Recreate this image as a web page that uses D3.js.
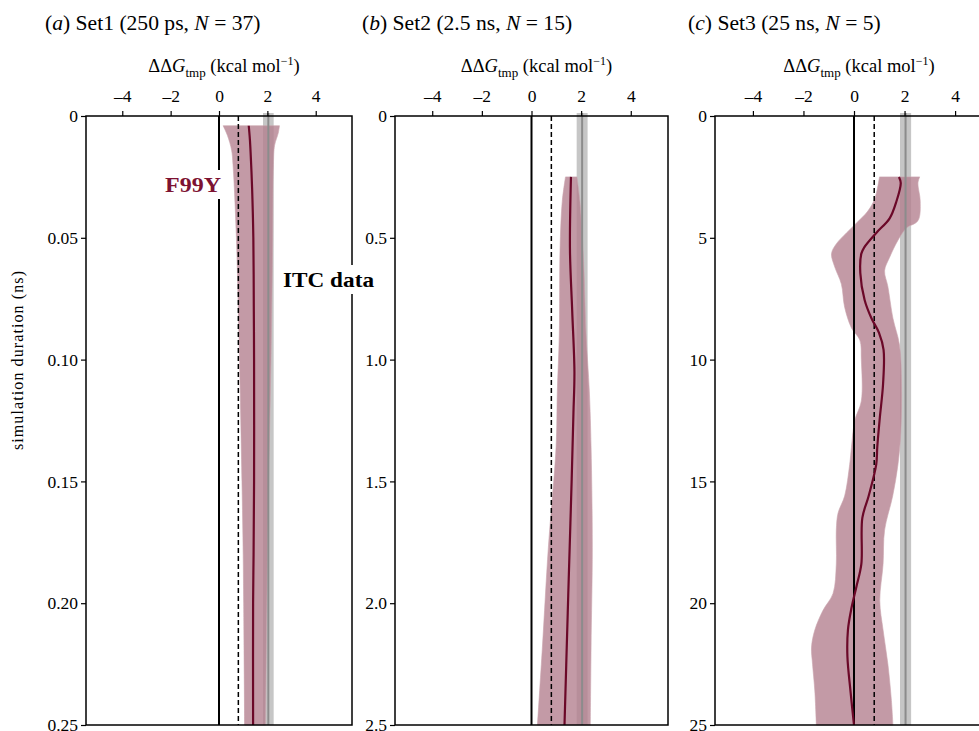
<!DOCTYPE html>
<html>
<head>
<meta charset="utf-8">
<script src="https://cdn.jsdelivr.net/npm/d3@7"></script>
<style>
  body { margin: 0; background: #fff; }
  svg { font-family: "Liberation Serif", "Times New Roman", serif; }
</style>
</head>
<body>
<svg id="chart" width="979" height="731"></svg>
<script>
// ---- data ----
var xTicks = [-4, -2, 0, 2, 4];
var itcValue = 2.04, itcErr = 0.22;   // ITC reference value and its band
var dashedValue = 0.8;

var titles = ["a", "b", "c"];
var titleText = ["Set1 (250 ps, ", "Set2 (2.5 ns, ", "Set3 (25 ns, "];
var titleN = ["37", "15", "5"];

var yTicksA = [0, 0.05, 0.10, 0.15, 0.20, 0.25];
var yTicksB = [0, 0.5, 1.0, 1.5, 2.0, 2.5];
var yTicksC = [0, 5, 10, 15, 20, 25];
var yLabelsA = ["0", "0.05", "0.10", "0.15", "0.20", "0.25"];
var yLabelsB = ["0", "0.5", "1.0", "1.5", "2.0", "2.5"];
var yLabelsC = ["0", "5", "10", "15", "20", "25"];

// set 1
var meanTA = [0.004, 0.01, 0.02, 0.03, 0.05, 0.08, 0.10, 0.15, 0.18, 0.20, 0.25];
var meanA  = [1.23, 1.28, 1.33, 1.37, 1.42, 1.44, 1.45, 1.45, 1.43, 1.41, 1.41];
var lowTA  = [0.004, 0.008, 0.014, 0.02, 0.05, 0.08, 0.10, 0.15, 0.18, 0.20, 0.25];
var lowA   = [0.17, 0.35, 0.52, 0.58, 0.72, 0.80, 0.85, 0.95, 1.00, 1.02, 1.06];
var highTA = [0.004, 0.007, 0.012, 0.02, 0.05, 0.10, 0.15, 0.20, 0.25];
var highA  = [2.50, 2.45, 2.30, 2.25, 2.22, 2.15, 2.05, 1.98, 1.93];

// set 2
var meanTB = [0.25, 0.55, 0.80, 1.05, 1.22, 1.49, 1.90, 2.04, 2.50];
var meanB  = [1.59, 1.55, 1.64, 1.73, 1.69, 1.62, 1.50, 1.46, 1.33];
var lowTB  = [0.25, 0.35, 0.55, 0.90, 1.13, 1.36, 1.77, 2.18, 2.50];
var lowB   = [1.37, 1.24, 1.15, 1.12, 1.04, 0.99, 0.68, 0.44, 0.24];
var highTB = [0.25, 0.35, 0.60, 0.90, 1.13, 1.36, 1.77, 2.18, 2.50];
var highB  = [1.83, 1.95, 2.10, 2.20, 2.33, 2.40, 2.45, 2.40, 2.37];

// set 3
var meanTC = [2.5, 2.75, 3.5, 4.2, 4.8, 5.4, 5.65, 6.45, 7.55, 8.3, 8.9, 9.6, 11.0, 12.4, 13.6,
              14.3, 15.6, 16.5, 18.4, 19.3, 20.2, 21.1, 22.2, 23.6, 25.0];
var meanC  = [1.78, 1.85, 1.68, 1.41, 0.88, 0.40, 0.29, 0.25, 0.42, 0.69, 0.99, 1.17, 1.15, 1.02, 0.92,
              0.88, 0.58, 0.33, 0.29, 0.10, -0.10, -0.24, -0.26, -0.14, 0.00];
var lowTC  = [2.5, 3.4, 3.9, 4.4, 4.8, 5.25, 5.65, 6.2, 6.9, 7.85, 8.7, 9.2, 10.0, 11.7, 12.5, 13.6,
              14.3, 15.6, 16.3, 17.0, 18.4, 19.6, 20.3, 21.1, 21.8, 22.5, 23.6, 25.0];
var lowC   = [1.01, 0.82, 0.55, 0.09, -0.30, -0.70, -0.89, -0.76, -0.50, -0.37, -0.10, 0.23, 0.29, 0.29, 0.03, -0.10,
              -0.17, -0.37, -0.63, -0.70, -0.70, -0.83, -1.23, -1.55, -1.68, -1.64, -1.55, -1.49];
var highTC = [2.5, 2.75, 3.5, 4.3, 4.6, 5.1, 5.8, 6.35, 7.0, 8.3, 9.4, 11.0, 13.0, 14.3, 15.6, 17.0,
              18.4, 19.9, 21.1, 22.5, 24.0, 25.0];
var highC  = [2.60, 2.53, 2.62, 2.53, 2.07, 1.74, 1.41, 1.21, 1.34, 1.54, 1.80, 1.88, 1.85, 1.74, 1.53, 1.21,
              1.15, 1.02, 1.15, 1.34, 1.48, 1.54];

var sets = [
  { yMax: 0.25, yTicks: yTicksA, yLabels: yLabelsA, meanT: meanTA, mean: meanA, lowT: lowTA, low: lowA, highT: highTA, high: highA },
  { yMax: 2.5,  yTicks: yTicksB, yLabels: yLabelsB, meanT: meanTB, mean: meanB, lowT: lowTB, low: lowB, highT: highTB, high: highB },
  { yMax: 25,   yTicks: yTicksC, yLabels: yLabelsC, meanT: meanTC, mean: meanC, lowT: lowTC, low: lowC, highT: highTC, high: highC }
];

// ---- layout ----
var svg = d3.select("#chart");
var panelX = [[86, 352], [395, 668], [715, 993]];
var plotTop = 116, plotBottom = 725;
var titleX = [45, 362, 688];

var meanColor = "#6b0828", labelColor = "#7d1232";

function zip(ts, vs) { return ts.map(function (t, i) { return [vs[i], t]; }); }

sets.forEach(function (s, i) {
  var x = d3.scaleLinear().domain([-5.5, 5.5]).range(panelX[i]);
  var y = d3.scaleLinear().domain([0, s.yMax]).range([plotTop, plotBottom]);
  var g = svg.append("g").attr("class", "panel");

  // title
  var tt = svg.append("text").attr("x", titleX[i]).attr("y", 30)
    .attr("font-size", 21.6);
  tt.append("tspan").text("(");
  tt.append("tspan").attr("font-style", "italic").text(titles[i]);
  tt.append("tspan").text(") " + titleText[i]);
  tt.append("tspan").attr("font-style", "italic").text("N");
  tt.append("tspan").text(" = " + titleN[i] + ")");

  // axis title
  var at = svg.append("text").attr("x", x(0) + 5).attr("y", 72)
    .attr("font-size", 18.5).attr("text-anchor", "middle");
  at.append("tspan").text("ΔΔ");
  at.append("tspan").attr("font-style", "italic").text("G");
  at.append("tspan").attr("font-size", 13).attr("dy", 5).text("tmp");
  at.append("tspan").attr("dy", -5).text(" (kcal mol");
  at.append("tspan").attr("font-size", 12).attr("dy", -7).text("−1");
  at.append("tspan").attr("dy", 7).text(")");

  // ITC band
  g.append("rect").attr("x", x(itcValue - itcErr)).attr("width", x(itcValue + itcErr) - x(itcValue - itcErr))
    .attr("y", plotTop - 3).attr("height", plotBottom - plotTop + 3).attr("fill", "#c6c6c6");

  // uncertainty band
  var edge = d3.line().x(function (d) { return x(d[0]); }).y(function (d) { return y(d[1]); })
    .curve(d3.curveCatmullRom);
  var lowPts = zip(s.lowT, s.low);
  var highPts = zip(s.highT, s.high).reverse();
  var bandPath = edge(lowPts) + edge(highPts).replace(/^M/, "L") + "Z";
  g.append("path").attr("d", bandPath).attr("fill", "#b27e8d").attr("fill-opacity", 0.78)
    .attr("stroke", "#c9a3ae").attr("stroke-width", 1).attr("stroke-opacity", 0.6);

  // ITC center line
  g.append("line").attr("x1", x(itcValue)).attr("x2", x(itcValue))
    .attr("y1", plotTop - 3).attr("y2", plotBottom).attr("stroke", "#8c8c8c").attr("stroke-width", 2);

  // zero and dashed reference lines
  g.append("line").attr("x1", x(0)).attr("x2", x(0)).attr("y1", plotTop).attr("y2", plotBottom)
    .attr("stroke", "#000").attr("stroke-width", 2);
  g.append("line").attr("x1", x(dashedValue)).attr("x2", x(dashedValue)).attr("y1", plotTop).attr("y2", plotBottom)
    .attr("stroke", "#000").attr("stroke-width", 1.5).attr("stroke-dasharray", "5,3");

  // mean line
  var meanLine = d3.line().x(function (d) { return x(d[0]); }).y(function (d) { return y(d[1]); })
    .curve(d3.curveCatmullRom);
  g.append("path").attr("d", meanLine(zip(s.meanT, s.mean))).attr("fill", "none")
    .attr("stroke", meanColor).attr("stroke-width", 2.2);

  // frame
  g.append("rect").attr("x", panelX[i][0]).attr("y", plotTop)
    .attr("width", panelX[i][1] - panelX[i][0]).attr("height", plotBottom - plotTop)
    .attr("fill", "none").attr("stroke", "#000").attr("stroke-width", 1.5);

  // axes
  var xAxis = svg.append("g").attr("transform", "translate(0," + plotTop + ")")
    .call(d3.axisTop(x).tickValues(xTicks).tickSize(5).tickSizeOuter(0).tickPadding(9)
      .tickFormat(function (d) { return d < 0 ? "–" + Math.abs(d) : d; }));
  var yAxis = svg.append("g").attr("transform", "translate(" + panelX[i][0] + ",0)")
    .call(d3.axisLeft(y).tickValues(s.yTicks).tickSize(5).tickSizeOuter(0).tickPadding(3)
      .tickFormat(function (d, j) { return s.yLabels[j]; }));
  [xAxis, yAxis].forEach(function (a) {
    a.select(".domain").remove();
    a.selectAll("line").attr("stroke", "#000").attr("stroke-width", 1.2);
    a.selectAll("text").attr("font-family", "Liberation Serif, serif").attr("font-size", 17.5).attr("fill", "#000");
  });
});

// y axis label
svg.append("text").attr("transform", "translate(23,360) rotate(-90)")
  .attr("text-anchor", "middle").attr("font-size", 16).attr("letter-spacing", 1.1)
  .text("simulation duration (ns)");

// annotations with white backing
function label(txt, xPos, yPos, size, width, color) {
  var t = svg.append("text").attr("x", xPos).attr("y", yPos).attr("font-size", size)
    .attr("font-weight", "bold").attr("fill", color)
    .attr("textLength", width).attr("lengthAdjust", "spacingAndGlyphs").text(txt);
  var b = t.node().getBBox();
  svg.insert("rect", function () { return t.node(); })
    .attr("x", b.x - 3).attr("y", b.y - 2).attr("width", b.width + 6).attr("height", b.height + 4)
    .attr("fill", "#fff");
}
label("F99Y", 165, 192, 22, 56, labelColor);
label("ITC data", 283, 287, 22, 91, "#000");
</script>
</body>
</html>
